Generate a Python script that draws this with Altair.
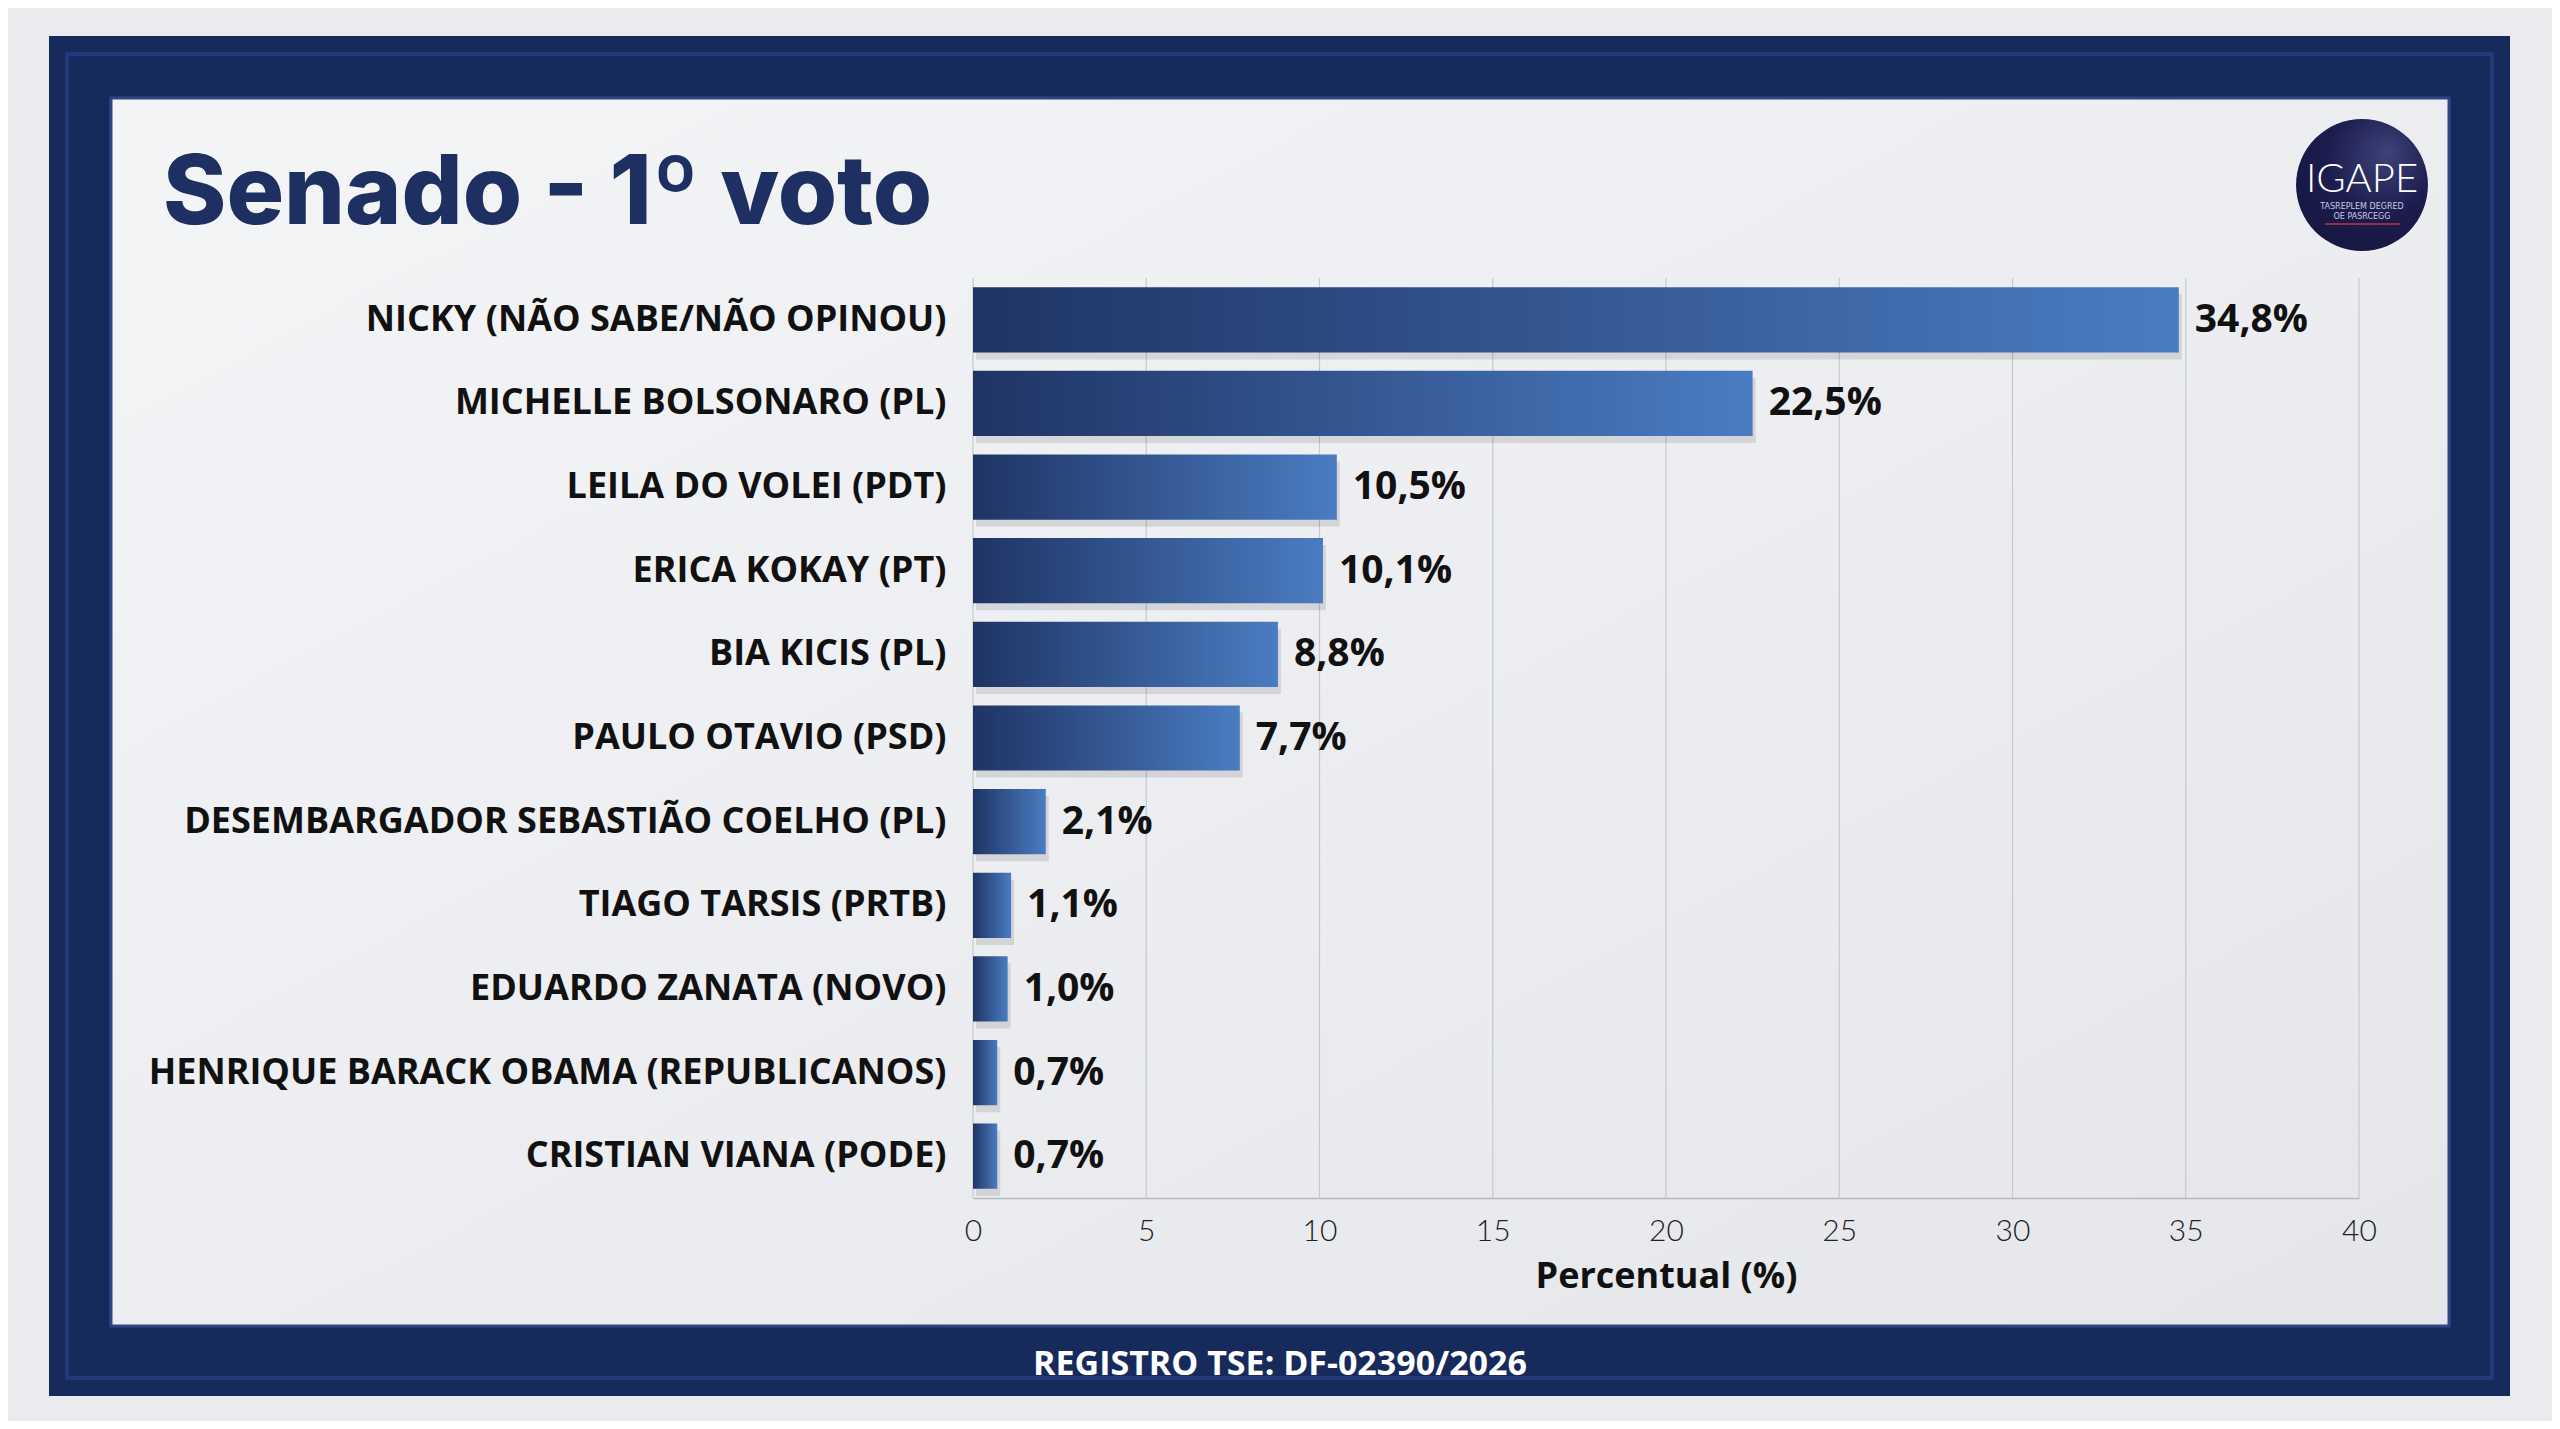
import altair as alt
import pandas as pd

# ---------------- data ----------------
candidates = [
    "NICKY (NÃO SABE/NÃO OPINOU)",
    "MICHELLE BOLSONARO (PL)",
    "LEILA DO VOLEI (PDT)",
    "ERICA KOKAY (PT)",
    "BIA KICIS (PL)",
    "PAULO OTAVIO (PSD)",
    "DESEMBARGADOR SEBASTIÃO COELHO (PL)",
    "TIAGO TARSIS (PRTB)",
    "EDUARDO ZANATA (NOVO)",
    "HENRIQUE BARACK OBAMA (REPUBLICANOS)",
    "CRISTIAN VIANA (PODE)",
]
values = [34.8, 22.5, 10.5, 10.1, 8.8, 7.7, 2.1, 1.1, 1.0, 0.7, 0.7]
x_ticks = [0, 5, 10, 15, 20, 25, 30, 35, 40]
title_text = "Senado - 1º voto"
x_title = "Percentual (%)"
footer_text = "REGISTRO TSE: DF-02390/2026"
logo_text = "IGAPE"
logo_sub = ["TASREPLEM DEGRED", "OE PASRCEGG"]

labels = [f"{v:.1f}".replace(".", ",") + "%" for v in values]
df = pd.DataFrame({"cand": candidates, "val": values, "label": labels})
grid_df = pd.DataFrame({"t": x_ticks})

W, H = 1386, 920
NAVY = "#172a5c"
one = alt.Data(values=[{"a": 1}])

x_scale = alt.Scale(domain=[0, 40], nice=False, zero=True)
y_scale = alt.Scale(domain=candidates, paddingInner=0.22, paddingOuter=0.11)

# ---------------- decoration ----------------
frame = alt.Chart(one).mark_rect(color=NAVY).encode(
    x=alt.value(-924), x2=alt.value(1537), y=alt.value(-242), y2=alt.value(1118)
)
frame_bevel = alt.Chart(one).mark_rect(fill=None, stroke="#22397a", strokeWidth=4).encode(
    x=alt.value(-906), x2=alt.value(1519), y=alt.value(-224), y2=alt.value(1100)
)
panel = alt.Chart(one).mark_rect(
    color=alt.LinearGradient(
        gradient="linear",
        stops=[alt.GradientStop(color="#f4f5f7", offset=0),
               alt.GradientStop(color="#e4e6ea", offset=1)],
        x1=0, x2=1, y1=0, y2=1,
    ),
    stroke="#2c4686", strokeWidth=3,
).encode(x=alt.value(-862), x2=alt.value(1476), y=alt.value(-180), y2=alt.value(1048))

title = alt.Chart(one).mark_text(
    text=title_text, align="left", baseline="alphabetic", font="Inter",
    fontWeight=800, fontSize=96, color="#1e2f62",
).encode(x=alt.value(-810), y=alt.value(-54))

footer = alt.Chart(one).mark_text(
    text=footer_text, align="center", baseline="middle", font="Open Sans",
    fontWeight="bold", fontSize=34, color="white",
).encode(x=alt.value(307), y=alt.value(1087))

logo_circle = alt.Chart(one).mark_point(
    shape="circle", filled=True, size=17400, opacity=1,
    color=alt.RadialGradient(
        gradient="radial",
        stops=[alt.GradientStop(color="#3e4279", offset=0),
               alt.GradientStop(color="#1c1d4e", offset=0.55),
               alt.GradientStop(color="#15163f", offset=1)],
        x1=0.7, y1=0.25, r1=0, x2=0.6, y2=0.35, r2=0.75,
    ),
).encode(x=alt.value(1389), y=alt.value(-93))
logo_main = alt.Chart(one).mark_text(
    text=logo_text, align="center", baseline="middle", font="Lato",
    fontWeight=300, fontSize=40, color="white",
).encode(x=alt.value(1389), y=alt.value(-98))
logo_sub1 = alt.Chart(one).mark_text(
    text=logo_sub[0], align="center", baseline="middle", font="DejaVu Sans",
    fontSize=8, color="#c9cbe2",
).encode(x=alt.value(1389), y=alt.value(-71))
logo_sub2 = alt.Chart(one).mark_text(
    text=logo_sub[1], align="center", baseline="middle", font="DejaVu Sans",
    fontSize=8, color="#c9cbe2",
).encode(x=alt.value(1389), y=alt.value(-61))
logo_line = alt.Chart(one).mark_rule(color="#c0304a", strokeWidth=1.5).encode(
    x=alt.value(1352), x2=alt.value(1427), y=alt.value(-54)
)

# ---------------- chart ----------------
grid = alt.Chart(grid_df).mark_rule(color="#c6c8cd", strokeWidth=1.2).encode(
    x=alt.X("t:Q", scale=x_scale), y=alt.value(0), y2=alt.value(H)
)

base = alt.Chart(df)
shadow = base.mark_bar(color="#000000", opacity=0.10, xOffset=3, yOffset=7).encode(
    x=alt.X("val:Q", scale=x_scale),
    y=alt.Y("cand:N", scale=y_scale, sort=candidates),
)
bars = base.mark_bar(
    color=alt.LinearGradient(
        gradient="linear",
        stops=[alt.GradientStop(color="#1f3464", offset=0),
               alt.GradientStop(color="#4a7cc2", offset=1)],
        x1=0, x2=1, y1=0, y2=0,
    )
).encode(
    x=alt.X("val:Q", scale=x_scale,
            axis=alt.Axis(values=x_ticks, title=x_title, grid=False, ticks=False,
                          domain=True, domainColor="#b8b9bd", domainWidth=1.5,
                          labelFont="Lato", labelFontWeight=300, labelFontSize=30,
                          labelColor="#222", labelPadding=18, labelFlush=False,
                          titleFont="Open Sans", titleFontWeight="bold", titleFontSize=36,
                          titleColor="#111", titlePadding=13, zindex=1)),
    y=alt.Y("cand:N", scale=y_scale, sort=candidates,
            axis=alt.Axis(title=None, ticks=False, domain=False, grid=False,
                          labelFont="Open Sans", labelFontWeight="bold", labelFontSize=36,
                          labelColor="#111", labelPadding=27, labelLimit=1000, zindex=1)),
)
texts = base.mark_text(
    align="left", baseline="middle", dx=16, font="Open Sans", fontWeight="bold",
    fontSize=39, color="#111",
).encode(
    x=alt.X("val:Q", scale=x_scale),
    y=alt.Y("cand:N", scale=y_scale, sort=candidates),
    text="label:N",
)

chart = alt.layer(
    frame, frame_bevel, panel, title, footer,
    logo_circle, logo_main, logo_sub1, logo_sub2, logo_line,
    grid, shadow, bars, texts,
).properties(
    width=W, height=H,
    autosize=alt.AutoSizeParams(type="none"),
    padding={"left": 965, "top": 270, "right": 193, "bottom": 223},
    background="#e9ebef",
).configure_view(stroke=None)

chart.save("out.html", embed_options={"renderer": "svg", "actions": False})
